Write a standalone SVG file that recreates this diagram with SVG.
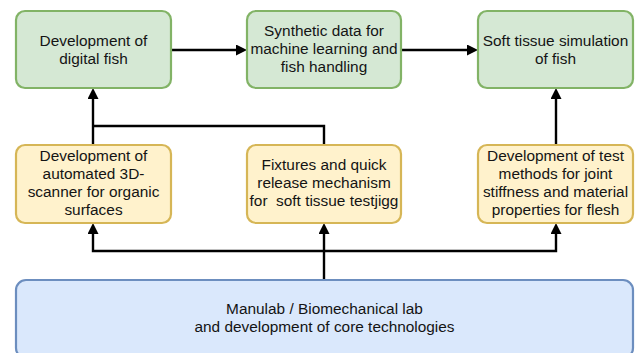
<svg xmlns="http://www.w3.org/2000/svg" width="638" height="353" viewBox="0 0 638 353">
  <style>
    .green { fill: #d5e8d4; stroke: #82b366; stroke-width: 2.2; }
    .yellow { fill: #fff2cc; stroke: #d6b656; stroke-width: 2.2; }
    .blue { fill: #dae8fc; stroke: #6c8ebf; stroke-width: 2.2; }
    text { font-family: "Liberation Sans", Arial, Helvetica, sans-serif; font-size: 15.4px; fill: #141414; text-anchor: middle; }
    .edge { fill: none; stroke: #000; stroke-width: 2.4; marker-end: url(#arrow); }
    .edge-plain { fill: none; stroke: #000; stroke-width: 2.4; }
  </style>
  <defs>
    <marker id="arrow" viewBox="0 0 11 11" refX="0" refY="5.5" markerWidth="11" markerHeight="11" markerUnits="userSpaceOnUse" orient="auto">
      <path d="M0,0 L11,5.5 L0,11 z" fill="#000"/>
    </marker>
  </defs>
  <rect width="638" height="353" fill="#fff"/>

  <g id="connectors">
    <path class="edge" d="M171,50 H236"/>
    <path class="edge" d="M401,50 H467"/>
    <path class="edge" d="M93,145 V99"/>
    <path class="edge-plain" d="M324,145 V126 H93"/>
    <path class="edge" d="M556,145 V99"/>
    <path class="edge" d="M324,280 V234"/>
    <path class="edge" d="M324,251 H93 V234"/>
    <path class="edge" d="M324,251 H556 V234"/>
  </g>

  <g id="digital-fish">
    <rect class="green" x="16" y="11" width="155" height="77" rx="9"/>
    <text x="93.5" y="46">Development of</text>
    <text x="93.5" y="64">digital fish</text>
  </g>

  <g id="synthetic-data">
    <rect class="green" x="247" y="11" width="154" height="77" rx="9"/>
    <text x="324" y="36">Synthetic data for</text>
    <text x="324" y="54">machine learning and</text>
    <text x="324" y="72">fish handling</text>
  </g>

  <g id="soft-tissue-sim">
    <rect class="green" x="478" y="11" width="155" height="77" rx="9"/>
    <text x="555.5" y="46">Soft tissue simulation</text>
    <text x="555.5" y="64">of fish</text>
  </g>

  <g id="scanner">
    <rect class="yellow" x="16" y="145" width="155" height="78" rx="9"/>
    <text x="93.5" y="161">Development of</text>
    <text x="93.5" y="179">automated 3D-</text>
    <text x="93.5" y="197">scanner for organic</text>
    <text x="93.5" y="215">surfaces</text>
  </g>

  <g id="fixtures">
    <rect class="yellow" x="247" y="145" width="154" height="78" rx="9"/>
    <text x="324" y="170">Fixtures and quick</text>
    <text x="324" y="188">release mechanism</text>
    <text x="324" y="206" xml:space="preserve">for  soft tissue testjigg</text>
  </g>

  <g id="test-methods">
    <rect class="yellow" x="478" y="145" width="155" height="78" rx="9"/>
    <text x="555.5" y="161">Development of test</text>
    <text x="555.5" y="179">methods for joint</text>
    <text x="555.5" y="197">stiffness and material</text>
    <text x="555.5" y="215">properties for flesh</text>
  </g>

  <g id="manulab">
    <rect class="blue" x="16" y="280" width="617" height="78" rx="10"/>
    <text x="324.5" y="314">Manulab / Biomechanical lab</text>
    <text x="324.5" y="332">and development of core technologies</text>
  </g>
</svg>
